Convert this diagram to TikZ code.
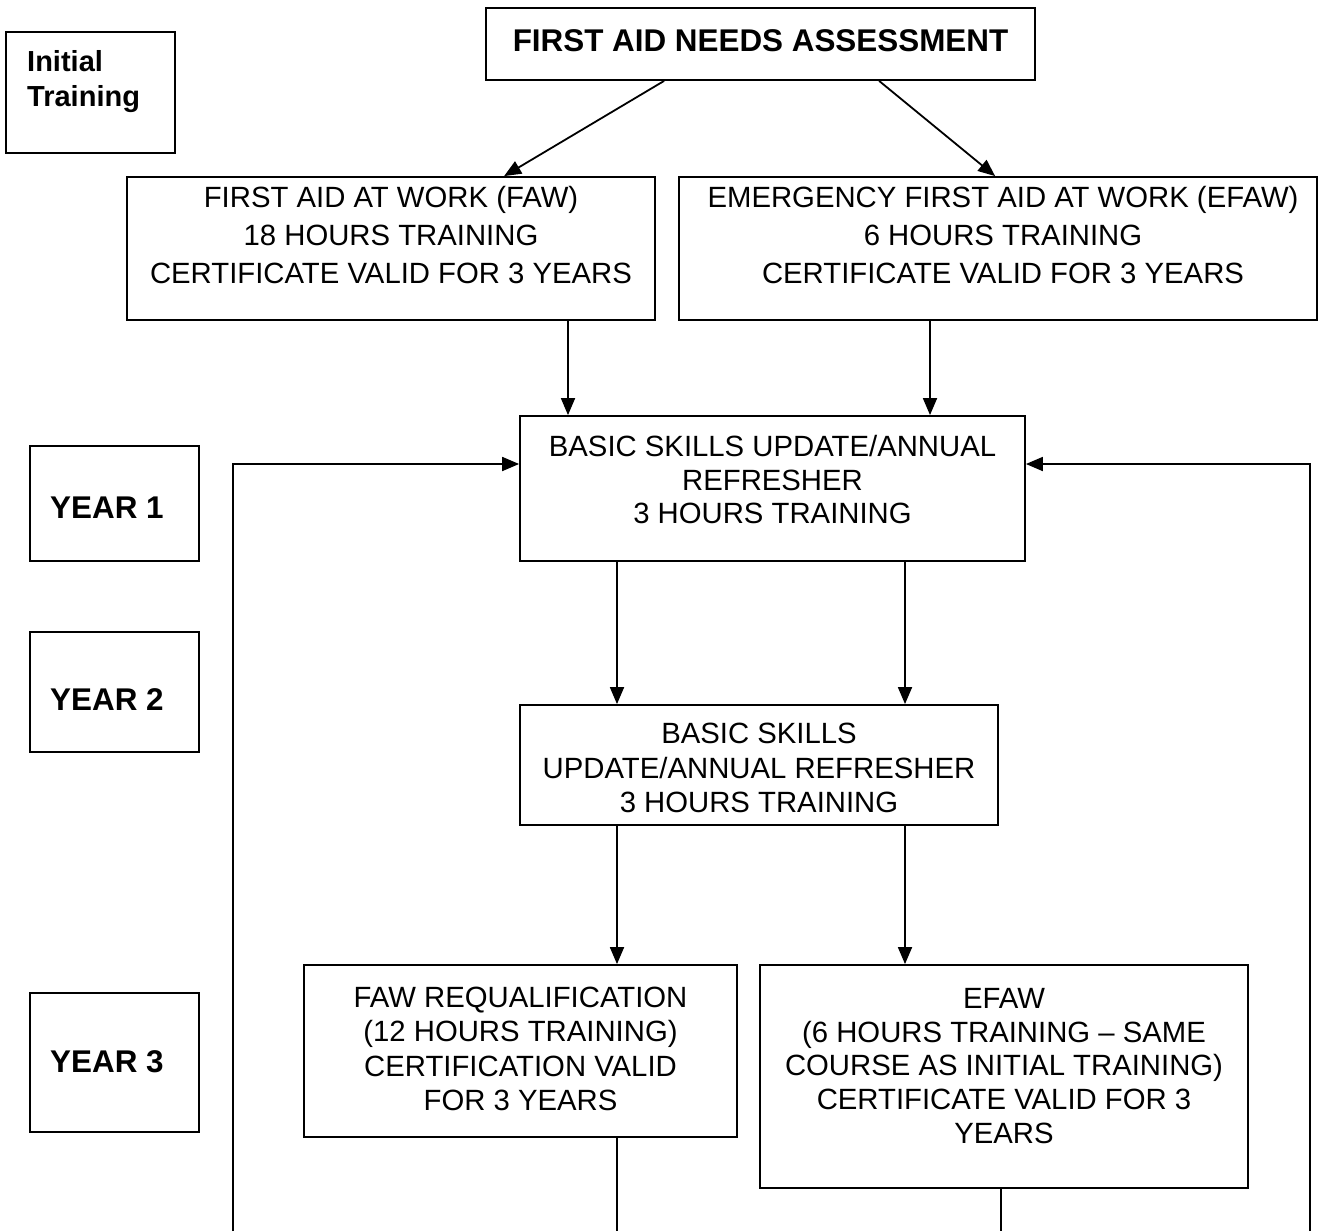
\documentclass[tikz,border=0pt]{standalone}
\usepackage{fontspec}
\setmainfont{Liberation Sans}
\usetikzlibrary{arrows.meta,calc}
\tikzset{
  box/.style={draw, line width=1.8pt, inner sep=0pt, rectangle},
  txt/.style={inner sep=0pt, align=center, font=\fontsize{29.3}{33.7}\selectfont},
  txtw/.style={inner sep=0pt, align=center, font=\fontsize{29.3}{38}\selectfont},
  bold/.style={inner sep=0pt, font=\bfseries\fontsize{31.4}{35}\selectfont},
  arr/.style={line width=1.8pt, -{Triangle[length=17pt,width=14pt]}},
  ln/.style={line width=1.8pt},
  thin/.style={line width=1.3pt}
}
\newcommand{\boxat}[5]{\node[box, minimum width=#4pt-#2pt, minimum height=#5pt-#3pt] (#1) at ({(#2+#4)/2},{(#3+#5)/2}) {};}
\begin{document}
\begin{tikzpicture}[x=1pt,y=-1pt]
\useasboundingbox (0,0) rectangle (1329,1231);
% boxes
\boxat{init}{6}{32}{175}{153}
\boxat{title}{486}{8}{1035}{80}
\boxat{faw}{127}{177}{655}{320}
\boxat{efaw}{679}{177}{1317}{320}
\boxat{yone}{30}{446}{199}{561}
\boxat{bsuone}{520}{416}{1025}{561}
\boxat{ytwo}{30}{632}{199}{752}
\boxat{bsutwo}{520}{705}{998}{825}
\boxat{ythree}{30}{993}{199}{1132}
\boxat{fawreq}{304}{965}{737}{1137}
\boxat{efawtwo}{760}{965}{1248}{1188}
% texts
\node[inner sep=0pt, anchor=north west, align=left, font=\bfseries\fontsize{29}{35}\selectfont] (initt) at (27,50) {Initial\\Training};
\node[bold] (titlet) at (760.5,41) {FIRST AID NEEDS ASSESSMENT};
\node[txtw, anchor=north] (fawt) at (391,186) {FIRST AID AT WORK (FAW)\\18 HOURS TRAINING\\CERTIFICATE VALID FOR 3 YEARS};
\node[txtw, anchor=north] (efawt) at (1003,186) {EMERGENCY FIRST AID AT WORK (EFAW)\\6 HOURS TRAINING\\CERTIFICATE VALID FOR 3 YEARS};
\node[bold, anchor=west] (yonet) at (50,508) {YEAR 1};
\node[txt, anchor=north] (bsuonet) at (772.5,435) {BASIC SKILLS UPDATE/ANNUAL\\REFRESHER\\3 HOURS TRAINING};
\node[bold, anchor=west] (ytwot) at (50,700) {YEAR 2};
\node[txt, anchor=north, font=\fontsize{29.3}{34.5}\selectfont] (bsutwot) at (759,723) {BASIC SKILLS\\UPDATE/ANNUAL REFRESHER\\3 HOURS TRAINING};
\node[bold, anchor=west] (ythreet) at (50,1062) {YEAR 3};
\node[txt, anchor=north, font=\fontsize{29.3}{34.3}\selectfont] (fawreqt) at (520.5,987) {FAW REQUALIFICATION\\(12 HOURS TRAINING)\\CERTIFICATION VALID\\FOR 3 YEARS};
\node[txt, anchor=north] (efawtwot) at (1004,988) {EFAW\\(6 HOURS TRAINING – SAME\\COURSE AS INITIAL TRAINING)\\CERTIFICATE VALID FOR 3\\YEARS};
% helper coordinates
\coordinate (xa) at (568,0);
\coordinate (xb) at (930,0);
\coordinate (xc) at (617,0);
\coordinate (xd) at (905,0);
\coordinate (xe) at (1001,0);
\coordinate (loopy) at (0,464);
\coordinate (bl) at (233,1231);
\coordinate (br) at (1310,1231);
\coordinate (bot) at (0,1231);
% connectors
\draw[arr] ([xshift=179pt]title.south west) -- ([xshift=378pt]faw.north west);
\draw[arr] ([xshift=394pt]title.south west) -- ([xshift=317pt]efaw.north west);
\draw[arr] (faw.south -| xa) -- (bsuone.north -| xa);
\draw[arr] (efaw.south -| xb) -- (bsuone.north -| xb);
\draw[arr] (bsuone.south -| xc) -- (bsutwo.north -| xc);
\draw[arr] (bsuone.south -| xd) -- (bsutwo.north -| xd);
\draw[arr] (bsutwo.south -| xc) -- (fawreq.north -| xc);
\draw[arr] (bsutwo.south -| xd) -- (efawtwo.north -| xd);
\draw[thin] (fawreq.south -| xc) -- (bot -| xc);
\draw[thin] (efawtwo.south -| xe) -- (bot -| xe);
\draw[arr] (bl) -- (bl |- loopy) -- (bsuone.west |- loopy);
\draw[arr] (br) -- (br |- loopy) -- (bsuone.east |- loopy);
\end{tikzpicture}
\end{document}
